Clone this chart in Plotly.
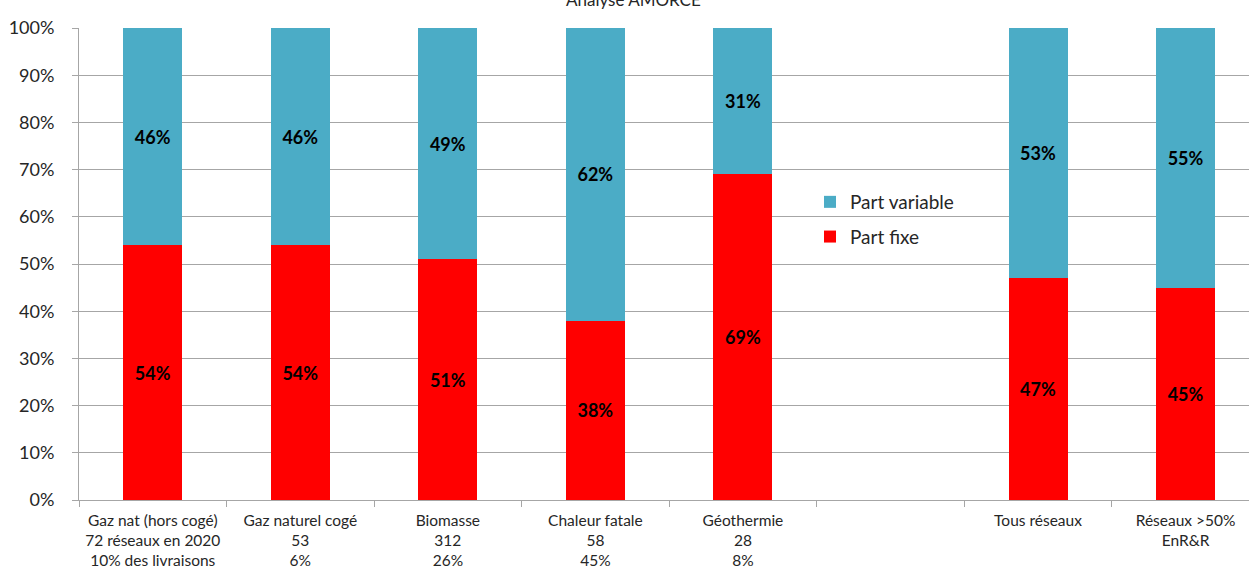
import plotly.graph_objects as go

# Categories (an empty slot separates the single-energy networks from the aggregates)
categories = [
    "Gaz nat (hors cogé)<br>72 réseaux en 2020<br>10% des livraisons",
    "Gaz naturel cogé<br>53<br>6%",
    "Biomasse<br>312<br>26%",
    "Chaleur fatale<br>58<br>45%",
    "Géothermie<br>28<br>8%",
    " ",
    "Tous réseaux<br> <br> ",
    "Réseaux >50%<br>EnR&R<br> ",
]
part_fixe = [54, 54, 51, 38, 69, None, 47, 45]
part_variable = [46, 46, 49, 62, 31, None, 53, 55]
y_ticks = [0, 10, 20, 30, 40, 50, 60, 70, 80, 90, 100]

FONT = "Lato, 'Open Sans', sans-serif"
BLUE = "#4BACC6"
RED = "#FF0000"


def labels(vals):
    return [f"{v}%" if v is not None else "" for v in vals]


fig = go.Figure()
fig.add_trace(go.Bar(
    x=categories, y=part_fixe, name="Part fixe", marker_color=RED,
    marker_line_width=0, text=labels(part_fixe), textposition="inside",
    insidetextanchor="middle", legendgroup="fixe", legendrank=2,
    textfont=dict(family=FONT, size=18, color="black", weight="bold"),
))
fig.add_trace(go.Bar(
    x=categories, y=part_variable, name="Part variable", marker_color=BLUE,
    marker_line_width=0, text=labels(part_variable), textposition="inside",
    insidetextanchor="middle", legendgroup="variable", legendrank=1,
    textfont=dict(family=FONT, size=18, color="black", weight="bold"),
))

fig.update_layout(
    width=1249, height=570,
    margin=dict(l=79, r=0, t=28, b=70),
    barmode="stack", bargap=0.6,
    plot_bgcolor="white", paper_bgcolor="white",
    font=dict(family=FONT, color="#404040"),
    uniformtext=dict(mode="show", minsize=18),
    showlegend=True,
    legend=dict(
        x=(810 - 79) / 1170, xanchor="left", y=(500 - 183) / 472, yanchor="top",
        traceorder="grouped", tracegroupgap=7,
        font=dict(family=FONT, size=19, color="#262626"),
        bgcolor="rgba(0,0,0,0)",
    ),
    annotations=[dict(
        text="Analyse AMORCE", xref="paper", yref="paper",
        x=(633 - 79) / 1170, y=(500 - 0) / 472, xanchor="center", yanchor="middle",
        showarrow=False, font=dict(family=FONT, size=17, color="#262626"),
    )],
)

fig.update_xaxes(
    type="category", range=[-0.5, 7.43],
    showline=True, linecolor="#a6a6a6", linewidth=1,
    ticks="outside", tickson="boundaries", ticklen=6, tickcolor="#a6a6a6",
    ticklabelstandoff=6,
    showgrid=False, tickfont=dict(family=FONT, size=15.5, color="#262626"),
)
fig.update_yaxes(
    range=[0, 100], tickvals=y_ticks, ticktext=[f"{v}%" for v in y_ticks],
    showline=True, linecolor="#a6a6a6", linewidth=1,
    ticks="outside", ticklen=6, tickcolor="#a6a6a6", ticklabelstandoff=14,
    showgrid=True, gridcolor="#a6a6a6", gridwidth=1, zeroline=False,
    tickfont=dict(family=FONT, size=18, color="#262626"),
)

fig.write_html("out.html")
